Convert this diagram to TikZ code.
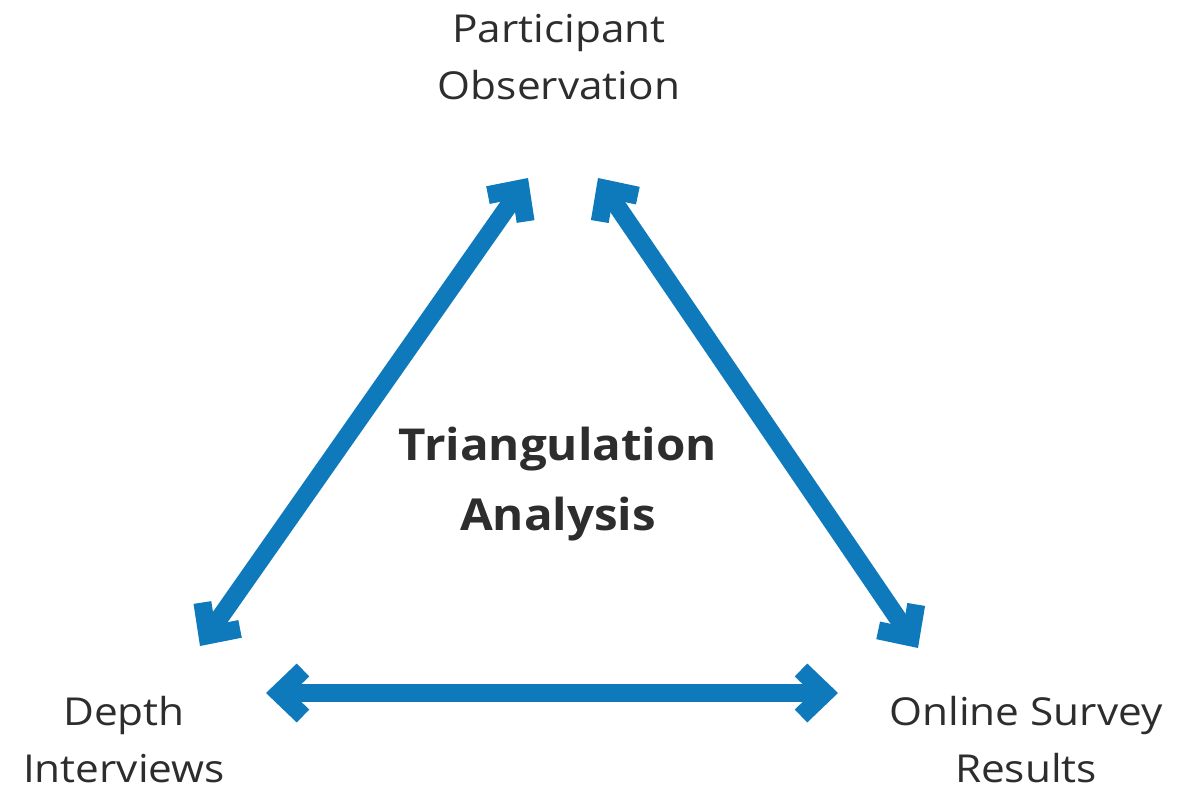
\documentclass[tikz,border=0pt]{standalone}
\usepackage{fontspec}
\setmainfont{Open Sans}[FakeStretch=1.1]
\newfontfamily\boldwide{Open Sans}[FakeStretch=1.08]
\usetikzlibrary{arrows.meta}
\definecolor{arrowblue}{RGB}{14,122,188}
\definecolor{textgray}{RGB}{45,45,45}
\tikzset{
  lbl/.style={align=center, text=textgray, font=\fontsize{38.5}{57}\selectfont, inner sep=0pt},
  ctr/.style={align=center, text=textgray, font=\boldwide\fontsize{44}{70}\selectfont\bfseries, inner sep=0pt},
  link/.style={draw=arrowblue, line width=18pt,
    {Straight Barb[length=24pt,width=46pt,line cap=butt,line join=miter]}-{Straight Barb[length=24pt,width=46pt,line cap=butt,line join=miter]}}
}
\begin{document}
\begin{tikzpicture}[x=1pt,y=-1pt]
\useasboundingbox (0,0) rectangle (1184,790);
\node[lbl] (po) at (559,57) {Participant\\Observation};
\node[lbl] (di) at (124,740) {Depth\\Interviews};
\node[lbl] (os) at (1026,740) {Online Survey\\Results};
\node[ctr] (ta) at (558,484) {Triangulation\\Analysis};
\coordinate (poL) at (528,178);
\coordinate (poR) at (598,178);
\coordinate (diT) at (200,646);
\coordinate (diR) at (266,693);
\coordinate (osT) at (918,648);
\coordinate (osL) at (838,693);
\draw[link] (diT) -- (poL);
\draw[link] (poR) -- (osT);
\draw[link] (diR) -- (osL);
\end{tikzpicture}
\end{document}
